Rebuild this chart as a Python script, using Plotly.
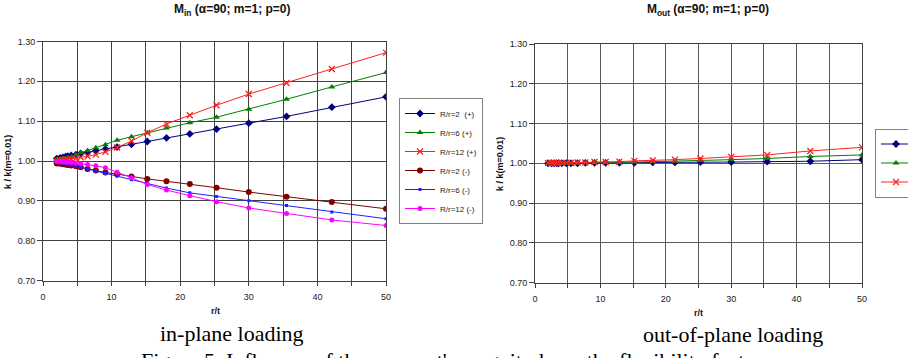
import plotly.graph_objects as go

W, H = 908, 358

# ---------------- data ----------------
r_t = [2.0, 2.5, 2.9, 3.3, 3.6, 4.1, 4.8, 5.5, 6.5, 7.7, 9.1, 10.8, 12.9, 15.2, 18.0, 21.4, 25.3, 30.0, 35.5, 42.1, 50.0]

in_R2_plus = [1.006, 1.008, 1.009, 1.011, 1.012, 1.014, 1.016, 1.019, 1.022, 1.026, 1.030, 1.035, 1.042, 1.049, 1.058, 1.068, 1.080, 1.095, 1.112, 1.135, 1.161]
in_R6_plus = [1.004, 1.005, 1.006, 1.007, 1.008, 1.010, 1.016, 1.021, 1.026, 1.033, 1.041, 1.052, 1.061, 1.071, 1.083, 1.096, 1.110, 1.130, 1.155, 1.186, 1.222]
in_R12_plus = [1.001, 1.002, 1.003, 1.004, 1.004, 1.005, 1.007, 1.009, 1.012, 1.016, 1.023, 1.034, 1.050, 1.071, 1.093, 1.115, 1.140, 1.168, 1.196, 1.231, 1.272]
in_R2_minus = [0.994, 0.993, 0.992, 0.991, 0.990, 0.989, 0.987, 0.984, 0.980, 0.976, 0.971, 0.967, 0.961, 0.955, 0.949, 0.942, 0.933, 0.922, 0.910, 0.897, 0.880]
in_R6_minus = [0.996, 0.995, 0.994, 0.993, 0.992, 0.990, 0.987, 0.984, 0.980, 0.975, 0.969, 0.962, 0.953, 0.944, 0.932, 0.920, 0.911, 0.900, 0.888, 0.872, 0.855]
in_R12_minus = [0.999, 0.999, 0.998, 0.998, 0.997, 0.996, 0.995, 0.993, 0.991, 0.988, 0.983, 0.972, 0.958, 0.941, 0.927, 0.913, 0.898, 0.882, 0.868, 0.852, 0.838]

out_R2_plus = [1.000, 1.000, 1.000, 1.000, 1.000, 1.000, 1.000, 1.000, 1.000, 1.001, 1.001, 1.001, 1.001, 1.001, 1.002, 1.002, 1.003, 1.003, 1.004, 1.005, 1.009]
out_R6_plus = [1.000, 1.000, 1.000, 1.000, 1.000, 1.000, 1.000, 1.000, 1.000, 1.001, 1.001, 1.002, 1.002, 1.003, 1.004, 1.005, 1.007, 1.009, 1.012, 1.017, 1.021]
out_R12_plus = [1.001, 1.001, 1.001, 1.001, 1.001, 1.001, 1.001, 1.001, 1.002, 1.002, 1.003, 1.003, 1.004, 1.006, 1.007, 1.009, 1.012, 1.016, 1.021, 1.031, 1.040]

x_ticks = [0, 10, 20, 30, 40, 50]
y_ticks = [0.70, 0.80, 0.90, 1.00, 1.10, 1.20, 1.30]
y_tick_text = ["0.70", "0.80", "0.90", "1.00", "1.10", "1.20", "1.30"]

NB = "\u00a0"
names_in = [f"R/r=2{NB}{NB}(+)", "R/r=6 (+)", "R/r=12 (+)", "R/r=2 (-)", "R/r=6 (-)", "R/r=12 (-)"]
names_out = [f"R/r=2{NB}{NB}(+)", "R/r=6 (+)", "R/r=12 (+)"]

# ---------------- styles ----------------
FONT = "Liberation Sans, Arial, sans-serif"
SERIF = "Liberation Serif, Times New Roman, serif"
styles = [
    dict(color="#000080", symbol="diamond", size=6),
    dict(color="#008000", symbol="triangle-up", size=6),
    dict(color="#FF2020", symbol="x-thin", size=6),
    dict(color="#800000", symbol="circle", size=6),
    dict(color="#2020FF", symbol="square", size=3),
    dict(color="#FF00FF", symbol="circle", size=5),
]

fig = go.Figure()

def add(x, y, name, st, xa, ya, leg):
    mk = dict(color=st["color"], symbol=st["symbol"], size=st["size"])
    if st["symbol"] == "x-thin":
        mk["line"] = dict(color=st["color"], width=1.3)
    fig.add_trace(go.Scatter(
        x=x, y=y, name=name, mode="lines+markers",
        line=dict(color=st["color"], width=1),
        marker=mk, xaxis=xa, yaxis=ya, legend=leg,
    ))

for ys, nm, st in zip([in_R2_plus, in_R6_plus, in_R12_plus, in_R2_minus, in_R6_minus, in_R12_minus], names_in, styles):
    add(r_t, ys, nm, st, "x", "y", "legend")
for ys, nm, st in zip([out_R2_plus, out_R6_plus, out_R12_plus], names_out, styles[:3]):
    add(r_t, ys, nm, st, "x2", "y2", "legend2")

def px(xp):
    return xp / W

def py(yp):
    return 1 - yp / H

def xaxis(dom, anchor, grid):
    return dict(
        domain=dom, anchor=anchor, range=[0, 50], tickvals=x_ticks,
        showgrid=True, gridcolor=grid, gridwidth=1,
        minor=dict(dtick=5, tick0=0, showgrid=True, gridcolor=grid, gridwidth=1,
                   ticks="outside", ticklen=4, tickcolor="#404040"),
        ticks="outside", ticklen=4, tickcolor="#404040",
        showline=True, linecolor="#404040", linewidth=1, mirror=True,
        tickfont=dict(family=FONT, size=9, color="#222"),
        ticklabelstandoff=4, zeroline=False,
    )

def yaxis(dom, anchor, grid):
    return dict(
        domain=dom, anchor=anchor, range=[0.70, 1.30], tickvals=y_ticks, ticktext=y_tick_text,
        showgrid=True, gridcolor=grid, gridwidth=1,
        ticks="outside", ticklen=5, tickcolor="#404040",
        showline=True, linecolor="#404040", linewidth=1, mirror=True,
        tickfont=dict(family=FONT, size=9, color="#222"), zeroline=False,
    )

legend_common = dict(
    bgcolor="white", bordercolor="#808080", borderwidth=1,
    font=dict(family=FONT, size=8, color="#222"),
    xanchor="left", yanchor="middle", itemwidth=30, tracegroupgap=0,
)

fig.update_layout(
    width=W, height=H,
    margin=dict(l=0, r=0, t=0, b=0, autoexpand=False),
    paper_bgcolor="white", plot_bgcolor="white",
    xaxis=xaxis([px(43), px(386)], "y", "#404040"),
    yaxis=yaxis([py(280.5), py(41.5)], "x", "#404040"),
    xaxis2=xaxis([px(535), px(862)], "y2", "#5a5a5a"),
    yaxis2=yaxis([py(282.5), py(44)], "x2", "#5a5a5a"),
    legend=dict(x=px(399), y=py(161), **legend_common),
    legend2=dict(x=px(875), y=py(163), **legend_common),
    showlegend=True,
)

ann = []
def note(text, xp, yp, size, family=FONT, angle=0, color="#111"):
    ann.append(dict(text=text, x=px(xp), y=py(yp), xref="paper", yref="paper",
                    showarrow=False, xanchor="center", yanchor="middle", textangle=angle,
                    font=dict(family=family, size=size, color=color)))

note("<b>M<sub>in</sub> (α=90; m=1; p=0)</b>", 232, 10, 12)
note("<b>M<sub>out</sub> (α=90; m=1; p=0)</b>", 708, 10, 12)
note("<b>k / k(m=0.01)</b>", 8, 162, 9, angle=-90)
note("<b>k / k(m=0.01)</b>", 500, 164, 9, angle=-90)
note("<b>r/t</b>", 215, 311, 9)
note("<b>r/t</b>", 698, 313, 9)
note("in-plane loading", 232, 333, 22, family=SERIF, color="#000")
note("out-of-plane loading", 733, 334, 22, family=SERIF, color="#000")
note("Figure 5. Influence of the moment's magnitude on the flexibility factor", 452, 360, 22, family=SERIF, color="#000")
fig.update_layout(annotations=ann)

fig.write_html("out.html")
